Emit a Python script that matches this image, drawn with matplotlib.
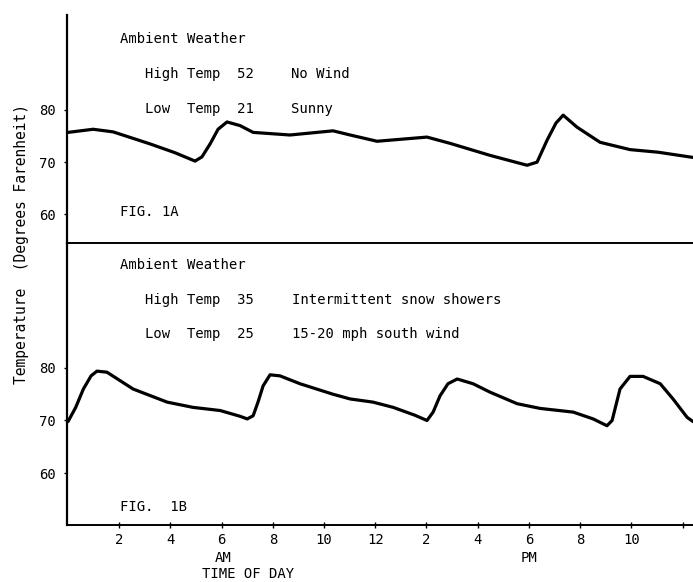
import matplotlib.pyplot as plt

# hours after midnight
hours_a = [0.0, 0.98, 1.76, 3.2, 4.18, 4.96, 5.23, 5.55, 5.86, 6.21, 6.72, 7.23, 8.67,
           10.35, 11.02, 12.07, 14.02, 14.92, 16.48, 17.93, 18.32, 18.71, 19.06, 19.34,
           19.88, 20.78, 21.95, 23.05, 24.41]
temp_a = [75.7, 76.3, 75.8, 73.5, 71.8, 70.2, 71.0, 73.5, 76.3, 77.7, 77.0, 75.7, 75.2,
          76.0, 75.2, 74.0, 74.8, 73.6, 71.3, 69.4, 70.0, 74.2, 77.5, 79.0,
          76.7, 73.8, 72.4, 71.9, 70.9]

hours_b = [0.0, 0.3, 0.6, 0.9, 1.13, 1.52, 2.54, 3.87, 4.88, 5.94, 6.72, 7.0, 7.23, 7.42,
           7.62, 7.89, 8.28, 9.06, 10.35, 11.02, 11.91, 12.7, 13.55, 14.02, 14.26, 14.53,
           14.84, 15.2, 15.82, 16.48, 17.54, 18.44, 19.73, 20.51, 21.05, 21.25, 21.56,
           21.95, 22.46, 23.13, 23.63, 24.18, 24.41]
temp_b = [69.8, 72.5, 76.0, 78.5, 79.4, 79.2, 76.0, 73.5, 72.5, 71.9, 70.8, 70.3, 70.9, 73.5,
          76.6, 78.7, 78.5, 77.0, 75.0, 74.1, 73.5, 72.5, 71.0, 70.0, 71.6, 74.7,
          77.0, 77.9, 77.0, 75.4, 73.2, 72.3, 71.6, 70.3, 69.0, 70.0, 76.0,
          78.4, 78.4, 77.0, 74.1, 70.6, 69.8]

x_ticks = [2, 4, 6, 8, 10, 12, 14, 16, 18, 20, 22, 24]
x_labels = ['2', '4', '6', '8', '10', '12', '2', '4', '6', '8', '10', '']
y_ticks = [60, 70, 80]

W, H = 693, 582
MONO = 'DejaVu Sans Mono'
plt.rcParams['font.family'] = MONO

fig = plt.figure(figsize=(W / 100, H / 100), dpi=100)

def px(x, y):
    return x / W, 1 - y / H

def txt(x, y, s, **kw):
    fig.text(*px(x, y), s, fontsize=10, va='center', ha='left', **kw)

left = 67 / W
ax1 = fig.add_axes([left, 1 - 243 / H, 1 - left, (243 - 15) / H])
ax2 = fig.add_axes([left, 1 - 525 / H, 1 - left, (525 - 243) / H])

ax1.plot(hours_a, temp_a, color='black', lw=2.3, solid_joinstyle='round', solid_capstyle='round')
ax2.plot(hours_b, temp_b, color='black', lw=2.3, solid_joinstyle='round', solid_capstyle='round')

ax1.set_ylim(54.5, 98.2)
ax2.set_ylim(50.1, 103.8)

for ax in (ax1, ax2):
    ax.set_xlim(-0.04, 24.41)
    ax.spines['top'].set_visible(False)
    ax.spines['right'].set_visible(False)
    ax.spines['left'].set_linewidth(1.6)
    ax.spines['bottom'].set_linewidth(1.4)
    ax.set_yticks(y_ticks)
    ax.set_yticklabels([str(v) for v in y_ticks])
    ax.tick_params(axis='y', direction='out', length=2, width=1, pad=6, labelsize=10)
    ax.patch.set_alpha(0)

ax1.set_xticks([])
ax2.set_xticks(x_ticks)
ax2.set_xticklabels(x_labels)
ax2.tick_params(axis='x', direction='inout', length=5, width=1, pad=3, labelsize=10)

# text blocks
txt(120, 39, 'Ambient Weather')
txt(145, 74, 'High Temp  52')
txt(291, 74, 'No Wind')
txt(145, 109, 'Low  Temp  21')
txt(291, 109, 'Sunny')
txt(120, 212, 'FIG. 1A')

txt(120, 265, 'Ambient Weather')
txt(145, 300, 'High Temp  35')
txt(292, 300, 'Intermittent snow showers')
txt(145, 334, 'Low  Temp  25')
txt(292, 334, '15-20 mph south wind')
txt(120, 507, 'FIG.  1B')

fig.text(*px(223, 558), 'AM', fontsize=10, ha='center', va='center')
fig.text(*px(529, 558), 'PM', fontsize=10, ha='center', va='center')
fig.text(*px(248, 574), 'TIME OF DAY', fontsize=10, ha='center', va='center')
fig.text(*px(22, 244), 'Temperature  (Degrees Farenheit)', fontsize=10.5,
         rotation=90, ha='center', va='center')

fig.savefig('out.png', dpi=100)
